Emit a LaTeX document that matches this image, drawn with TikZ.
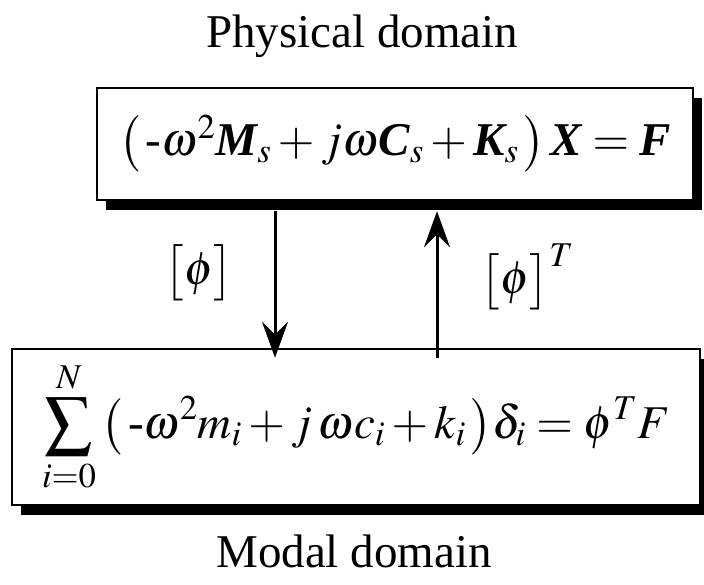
\documentclass[tikz,border=0pt]{standalone}
\usepackage{mathptmx}
\usepackage{fontspec}
\setmainfont{Liberation Serif}
\usepackage{tikz}
\usetikzlibrary{arrows.meta,positioning,calc,shadows}
\newcommand{\bvi}[1]{\mbox{\bfseries\itshape #1}}
\newcommand{\hy}{\mbox{-}}
\tikzset{
  domain box/.style={draw=black,line width=2.5pt,fill=white,inner sep=0pt,
    drop shadow={shadow xshift=9pt,shadow yshift=-10pt,fill=black,opacity=1},
    font=\fontsize{47}{56}\selectfont},
  domain title/.style={anchor=base,inner sep=0pt,font=\fontsize{47}{56}\selectfont},
  map arrow/.style={-{Stealth[length=36pt,width=26pt,inset=13pt]},line width=3pt},
  map label/.style={inner sep=0pt,font=\fontsize{47}{56}\selectfont}
}

\begin{document}
\begin{tikzpicture}[x=1pt,y=1pt]
\useasboundingbox (0,0) rectangle (704,584);
\node[domain title] (phystitle) at (362,536) {Physical domain};
\node[domain box,minimum width=596pt,minimum height=112pt] (physbox) at (395,440)
  {$\bigl(\,\hy\omega^{2}\bvi{M}_{s}+j\omega\bvi{C}_{s}+\bvi{K}_{s}\,\bigr)\,\bvi{X}=\bvi{F}$};
\node[domain box,minimum width=688pt,minimum height=156pt] (modalbox) at (356,157)
  {$\displaystyle\sum_{i=0}^{N}\,\bigl(\,\hy\omega^{2}m_{i}+j\,\omega c_{i}+k_{i}\,\bigr)\delta_{i}=\phi^{T}F$};
\node[domain title] (modaltitle) at (354,17) {Modal domain};
\draw[map arrow] ([xshift=-120pt,yshift=-10pt]physbox.south)
  -- node[map label,pos=.42,left=40pt] {$\bigl[\phi\bigr]$}
  ([xshift=-120pt,yshift=-10pt]physbox.south |- modalbox.north);
\draw[map arrow] ([xshift=42pt,yshift=-10pt]physbox.south |- modalbox.north)
  -- node[map label,pos=.55,right=42pt] {$\bigl[\phi\bigr]^{T}$}
  ([xshift=42pt,yshift=-10pt]physbox.south);
\end{tikzpicture}
\end{document}
